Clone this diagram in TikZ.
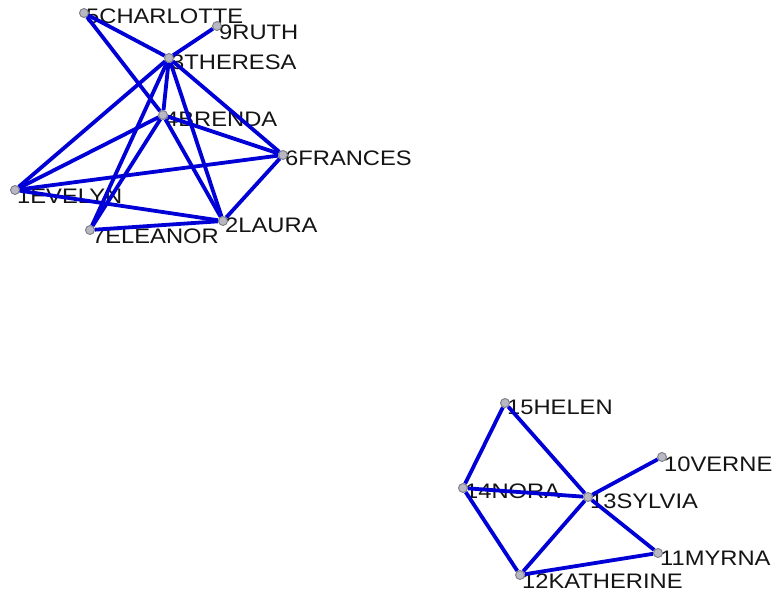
\documentclass[tikz,border=0pt]{standalone}
\usepackage{fontspec}
\newfontfamily\namefont{Liberation Sans}[FakeStretch=1.13]
\usetikzlibrary{positioning}
\definecolor{tieblue}{HTML}{0000D6}
\definecolor{dotfill}{HTML}{B8B8C2}
\definecolor{dotline}{HTML}{7C7C86}
\definecolor{nametext}{HTML}{141414}
\pgfdeclarelayer{back}
\pgfsetlayers{back,main}
\tikzset{
  woman/.style={circle, draw=dotline, fill=dotfill, line width=0.9pt, inner sep=0pt, minimum size=9pt},
  tie/.style={draw=tieblue, line width=3.8pt},
  who/.style={font=\namefont\fontsize{21}{24}\selectfont, text=nametext, inner sep=0pt},
}

\begin{document}
\begin{tikzpicture}[x=1pt, y=-1pt]
\useasboundingbox (0,0) rectangle (777,594);

\node[woman] (cha) at (84,13) {};
\node[woman] (rut) at (217,26) {};
\node[woman] (the) at (169,58) {};
\node[woman] (bre) at (163,115) {};
\node[woman] (fra) at (283,155) {};
\node[woman] (eve) at (15,190) {};
\node[woman] (ele) at (90,230) {};
\node[woman] (lau) at (223,221) {};

\node[woman] (hel) at (505,403) {};
\node[woman] (ver) at (662,457) {};
\node[woman] (nor) at (463,488) {};
\node[woman] (syl) at (588,497) {};
\node[woman] (myr) at (658,553) {};
\node[woman] (kat) at (520,575) {};

\begin{pgfonlayer}{back}
\node[who, right=2pt of cha.center, yshift=-3pt] {5CHARLOTTE};
\node[who, right=2pt of rut.center, yshift=-6pt] {9RUTH};
\node[who, right=2pt of the.center, yshift=-4pt] {3THERESA};
\node[who, right=2pt of bre.center, yshift=-4pt] {4BRENDA};
\node[who, right=2pt of fra.center, yshift=-3pt] {6FRANCES};
\node[who, right=2pt of eve.center, yshift=-6pt] {1EVELYN};
\node[who, right=2pt of ele.center, yshift=-6pt] {7ELEANOR};
\node[who, right=2pt of lau.center, yshift=-4pt] {2LAURA};
\node[who, right=2pt of hel.center, yshift=-4pt] {15HELEN};
\node[who, right=2pt of ver.center, yshift=-7pt] {10VERNE};
\node[who, right=2pt of nor.center, yshift=-3pt] {14NORA};
\node[who, right=2pt of syl.center, yshift=-4pt] {13SYLVIA};
\node[who, right=2pt of myr.center, yshift=-5pt] {11MYRNA};
\node[who, right=2pt of kat.center, yshift=-6pt] {12KATHERINE};
\end{pgfonlayer}

\draw[tie] (cha) -- (the);
\draw[tie] (cha) -- (bre);
\draw[tie] (rut) -- (the);
\draw[tie] (the) -- (eve);
\draw[tie] (the) -- (ele);
\draw[tie] (the) -- (bre);
\draw[tie] (the) -- (lau);
\draw[tie] (the) -- (fra);
\draw[tie] (bre) -- (eve);
\draw[tie] (bre) -- (ele);
\draw[tie] (bre) -- (lau);
\draw[tie] (bre) -- (fra);
\draw[tie] (eve) -- (fra);
\draw[tie] (eve) -- (lau);
\draw[tie] (ele) -- (lau);
\draw[tie] (fra) -- (lau);

\draw[tie] (hel) -- (nor);
\draw[tie] (hel) -- (syl);
\draw[tie] (nor) -- (syl);
\draw[tie] (nor) -- (kat);
\draw[tie] (syl) -- (ver);
\draw[tie] (syl) -- (kat);
\draw[tie] (syl) -- (myr);
\draw[tie] (myr) -- (kat);

\end{tikzpicture}
\end{document}
